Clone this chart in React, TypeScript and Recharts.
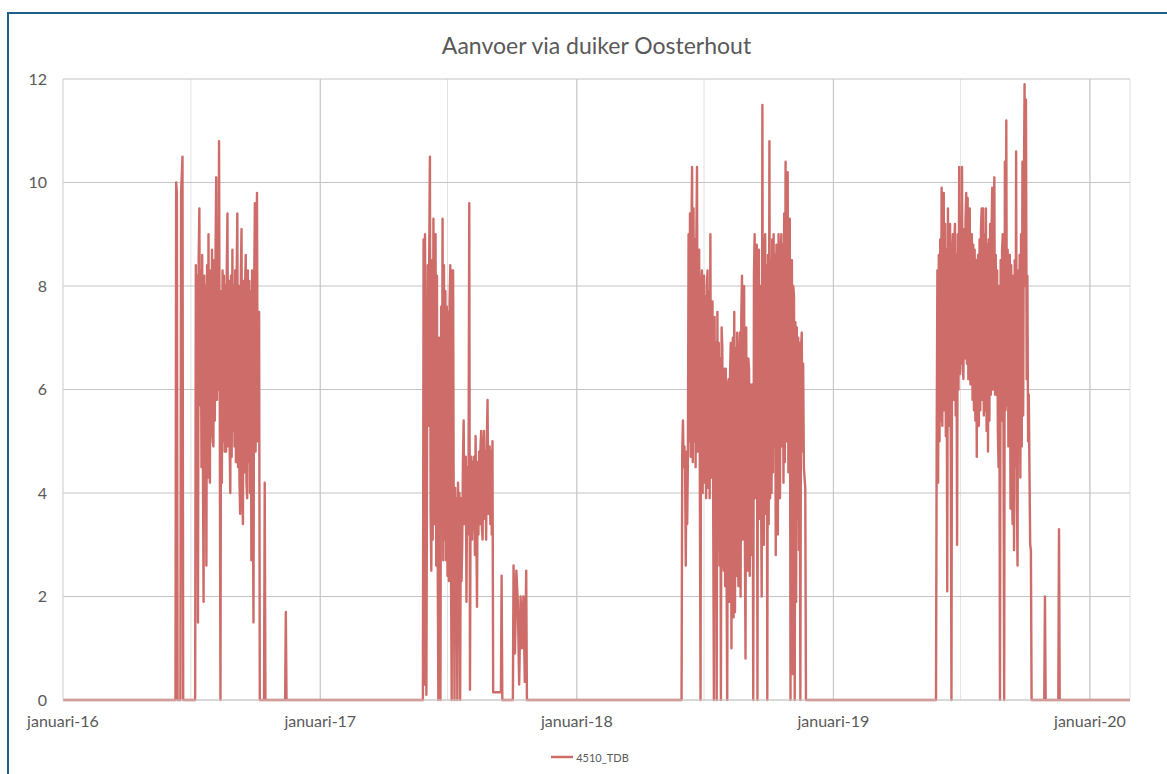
import React from "react";
import {
  LineChart,
  Line,
  XAxis,
  YAxis,
  CartesianGrid,
  ReferenceLine,
  Legend
} from "recharts";

// days counted from 1 januari 2016
const END_DAY = 1518;
const janDays = [0, 366, 731, 1096, 1461];
const julyDays = [182, 547, 912, 1277];
const yearLabels = ["januari-16", "januari-17", "januari-18", "januari-19", "januari-20"];
const yTicks = [0, 2, 4, 6, 8, 10, 12];

// flow values per burst (daily, or every 2 days where noted in `bursts`)
const early2016a = [10.0, 9.8];
const early2016b = [9.8, 10.5];
const summer2016 = [
  8.4, 4.6, 8.2, 1.5, 8.5, 9.5, 5.7, 8.3, 4.5, 8.6,
  4.8, 1.9, 8.2, 4.7, 8.0, 2.6, 8.4, 4.3, 9.0, 5.0,
  4.2, 8.3, 5.1, 8.7, 5.0, 4.9, 8.5, 5.4, 8.6, 10.1,
  5.8, 8.4, 6.0, 10.8, 5.9, 0, 7.9, 4.2, 8.3, 5.0,
  8.2, 4.8, 8.0, 4.8, 8.3, 9.4, 4.9, 8.1, 5.0, 4.0,
  8.2, 4.7, 8.7, 5.2, 8.0, 4.9, 8.3, 4.6, 8.1, 9.4,
  4.5, 8.0, 4.3, 3.6, 8.2, 9.1, 4.0, 3.4, 8.1, 4.4,
  8.0, 8.6, 4.2, 3.9, 8.3, 4.6, 8.1, 4.0, 7.9, 2.7,
  8.3, 4.2, 1.5, 8.0, 9.6, 4.8, 8.2, 9.8, 5.0, 5.6,
  7.5
];
const late2016a = [4.2];
const late2016b = [1.7];
const summer2017 = [
  8.9, 0.3, 9.0, 5.5, 0.1, 5.3, 8.4, 5.3, 8.6, 10.5,
  3.6, 2.5, 8.5, 3.1, 9.3, 3.4, 8.6, 9.0, 2.6, 8.2,
  3.0, 0, 7.0, 0.3, 0, 7.6, 3.3, 9.3, 2.7, 8.4,
  3.1, 7.9, 2.7, 7.6, 2.4, 7.5, 2.3, 7.7, 8.4, 2.6,
  0, 8.3, 8.3, 2.9, 0, 4.1, 2.5, 3.9, 0, 4.2,
  1.9, 4.0, 0, 3.9, 2.3, 3.0, 4.6, 5.4, 3.4, 4.3,
  4.7, 1.9, 4.5, 3.2, 4.6, 9.6, 0.2, 4.4, 4.7, 3.1,
  4.6, 3.3, 4.7, 2.8, 5.1, 3.4, 1.8, 4.6, 3.2, 4.8,
  3.4, 4.9, 5.2, 3.3, 3.1, 4.9, 5.2, 3.5, 4.8, 3.1,
  5.0, 5.8, 3.6, 4.7, 4.9, 3.4, 4.8, 3.2, 5.0, 0.15,
  0.15, 0.15, 0.15, 0.15, 0.15, 0.15, 0.15, 0.15, 0.15, 0.15,
  0.15, 2.4
];
const autumn2017 = [2.6, 0.9, 2.5, 1.9, 0.3, 2.0, 1.0, 2.0, 0.35, 2.5];
const summer2018 = [
  4.8, 5.4, 4.5, 4.9, 4.6, 2.6, 4.8, 3.4, 4.6, 9.0,
  5.0, 9.4, 4.7, 9.0, 10.3, 4.6, 9.5, 5.0, 8.9, 4.5,
  8.8, 10.3, 4.8, 8.6, 8.7, 4.4, 0, 8.0, 8.3, 4.0,
  7.9, 8.2, 4.2, 7.8, 3.9, 8.0, 8.3, 4.1, 7.9, 3.9,
  9.0, 4.3, 5.1, 7.7, 3.8, 0, 7.4, 3.2, 6.9, 0,
  7.5, 2.9, 6.9, 2.6, 6.6, 0, 7.2, 6.8, 2.8, 2.5,
  6.4, 2.2, 6.4, 2.6, 0, 6.1, 6.2, 1.9, 6.3, 6.9,
  1.0, 6.5, 7.0, 1.6, 7.5, 1.7, 6.8, 2.4, 7.1, 2.8,
  2.2, 6.7, 7.1, 2.0, 7.4, 8.2, 3.1, 7.6, 8.0, 3.4,
  0.8, 7.2, 3.0, 2.5, 6.6, 6.4, 2.4, 6.1, 6.0, 2.8,
  6.1, 0, 8.2, 9.0, 3.9, 8.4, 8.8, 0, 8.3, 8.7,
  3.5, 8.0, 4.2, 2.0, 11.5, 3.8, 3.0, 8.5, 9.0, 3.6,
  8.4, 0, 8.6, 3.4, 10.8, 3.9, 8.5, 4.0, 8.9, 4.4,
  9.0, 4.9, 8.6, 2.8, 8.8, 3.6, 3.2, 9.0, 4.1, 3.9,
  8.7, 9.0, 4.9, 8.8, 4.2, 9.4, 4.6, 10.4, 5.0, 9.6,
  10.2, 4.4, 9.3, 9.3, 0, 8.5, 8.5, 0.5, 8.0, 7.8,
  0, 7.3, 1.9, 7.2, 3.5, 7.0, 2.9, 6.9, 0, 6.8,
  7.1, 4.8, 6.5, 4.5, 4.3, 4.1
];
const summer2019 = [
  5.1, 8.3, 4.2, 8.6, 5.0, 8.9, 5.4, 9.9, 5.3, 9.4,
  9.8, 5.6, 9.2, 5.1, 8.7, 2.1, 9.5, 5.3, 8.8, 9.2,
  5.0, 0, 8.6, 9.0, 5.8, 8.8, 9.2, 5.5, 8.6, 3.0,
  9.0, 6.0, 10.3, 6.3, 9.3, 6.5, 10.3, 6.4, 6.2, 9.1,
  6.6, 9.3, 9.8, 6.5, 9.7, 6.2, 9.0, 9.5, 6.1, 8.9,
  9.0, 5.8, 8.8, 5.6, 8.7, 5.4, 8.5, 4.7, 8.4, 8.6,
  5.3, 8.9, 5.6, 9.1, 9.5, 5.8, 9.5, 5.5, 9.0, 5.6,
  9.5, 5.2, 8.8, 4.8, 8.9, 5.4, 9.2, 5.9, 9.0, 9.9,
  6.0, 9.3, 10.1, 5.9, 8.6, 5.9, 8.3, 5.2, 4.5, 8.0,
  0, 8.5, 5.4, 8.7, 9.0, 5.3, 0, 10.4, 5.6, 11.2,
  5.7, 8.7, 4.9, 5.9, 8.6, 3.7, 8.4, 4.2, 3.4, 8.2,
  2.9, 8.5, 4.5, 10.6, 4.0, 2.6, 8.3, 5.6, 8.6, 4.3,
  9.0, 4.9, 10.4, 5.5, 9.8, 11.9, 8.0, 11.6, 6.2, 8.2,
  5.0, 5.9, 4.4, 3.0, 2.9
];
const late2019a = [2.0];
const late2019b = [3.3];

const bursts = [
  { start: 161, step: 1, values: early2016a },
  { start: 168, step: 2, values: early2016b },
  { start: 189, step: 1, values: summer2016 },
  { start: 287, step: 1, values: late2016a },
  { start: 317, step: 1, values: late2016b },
  { start: 513, step: 1, values: summer2017 },
  { start: 641, step: 2, values: autumn2017 },
  { start: 881, step: 1, values: summer2018 },
  { start: 1243, step: 1, values: summer2019 },
  { start: 1397, step: 1, values: late2019a },
  { start: 1417, step: 1, values: late2019b }
];

function buildSeries() {
  const pts: { day: number; flow: number }[] = [{ day: 0, flow: 0 }];
  bursts.forEach((b) => {
    pts.push({ day: b.start - 1, flow: 0 });
    b.values.forEach((v, i) => pts.push({ day: b.start + i * b.step, flow: v }));
    pts.push({ day: b.start + (b.values.length - 1) * b.step + 1, flow: 0 });
  });
  pts.push({ day: END_DAY, flow: 0 });
  return pts;
}

const data = buildSeries();
const xTicks = [...janDays, ...julyDays].sort((a, b) => a - b);

const FONT = "Lato, 'Open Sans', sans-serif";
const TEXT = "#595959";
const LINE_COLOR = "#cd6c68";

const LegendContent = (props: any) => {
  const item = props.payload && props.payload[0];
  return (
    <div
      style={{
        display: "flex",
        justifyContent: "center",
        alignItems: "center",
        height: 22,
        fontSize: 11,
        color: TEXT,
        fontFamily: FONT
      }}
    >
      <svg width={22} height={6}>
        <line x1={0} y1={3} x2={22} y2={3} stroke={item ? item.color : LINE_COLOR} strokeWidth={2.5} />
      </svg>
      <span style={{ marginLeft: 3 }}>{item ? item.value : ""}</span>
    </div>
  );
};

export default function App() {
  return (
    <div style={{ position: "fixed", inset: 0, overflow: "hidden", background: "#fff", fontFamily: FONT }}>
      <div
        style={{
          position: "absolute",
          left: 7,
          top: 12,
          width: 1300,
          height: 900,
          border: "2px solid #1e5f8b"
        }}
      />
      <div
        style={{
          position: "absolute",
          left: 63,
          width: 1067,
          top: 34,
          textAlign: "center",
          fontSize: 23,
          lineHeight: "22px",
          color: TEXT
        }}
      >
        Aanvoer via duiker Oosterhout
      </div>
      <div style={{ position: "absolute", left: 0, top: 0 }}>
        <LineChart width={1167} height={774} data={data} margin={{ top: 79, right: 37, left: 0, bottom: 6 }}>
          <CartesianGrid horizontal={false} stroke="#e2e2e2" />
          <CartesianGrid vertical={false} stroke="#c4c4c4" />
          {janDays.slice(1).map((d) => (
            <ReferenceLine key={d} x={d} stroke="#c4c4c4" />
          ))}
          <XAxis
            type="number"
            dataKey="day"
            domain={[0, END_DAY]}
            ticks={xTicks}
            interval={0}
            allowDataOverflow
            tickFormatter={(d: number) => {
              const idx = janDays.indexOf(d);
              return idx >= 0 ? yearLabels[idx] : "";
            }}
            tick={{ fill: TEXT, fontSize: 16, fontFamily: FONT }}
            tickLine={false}
            tickSize={0}
            tickMargin={16}
            axisLine={{ stroke: "#d0d0d0" }}
            height={46}
          />
          <YAxis
            domain={[0, 12]}
            ticks={yTicks}
            interval={0}
            tick={{ fill: TEXT, fontSize: 16, fontFamily: FONT }}
            tickLine={false}
            tickSize={0}
            tickMargin={16}
            axisLine={{ stroke: "#d9d9d9" }}
            width={63}
          />
          <Line
            type="linear"
            dataKey="flow"
            name="4510_TDB"
            stroke={LINE_COLOR}
            strokeWidth={2.4}
            strokeLinejoin="round"
            dot={false}
            isAnimationActive={false}
          />
          <Legend
            verticalAlign="bottom"
            content={<LegendContent />}
            wrapperStyle={{ left: 0, width: 1180 }}
          />
        </LineChart>
      </div>
    </div>
  );
}
